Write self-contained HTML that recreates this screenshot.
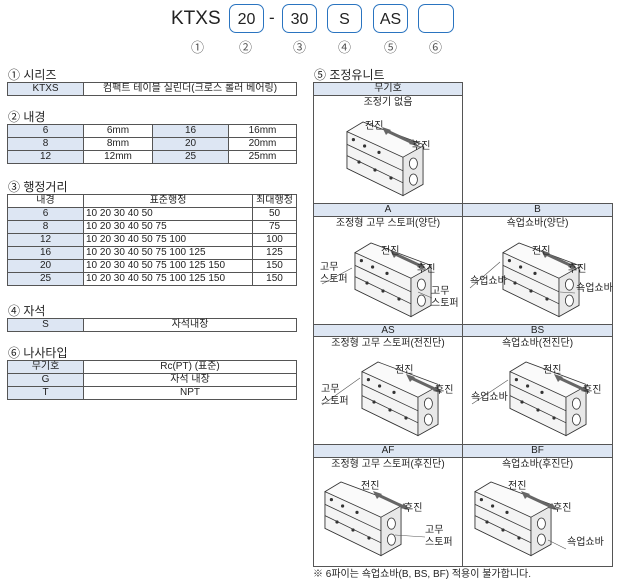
<!DOCTYPE html>
<html><head><meta charset="utf-8"><style>
body{margin:0;width:622px;height:584px;background:#fff;position:relative;overflow:hidden;font-family:"Liberation Sans","Noto Sans CJK KR",sans-serif;color:#222}
.a{position:absolute}
.t{position:absolute;font-size:10px;line-height:12px;white-space:nowrap}
.h{position:absolute;font-size:12px;white-space:nowrap}
table{position:absolute;border-collapse:collapse;font-size:10px}
td{border:1px solid #555;text-align:center;padding:0;height:12px;line-height:12px}
td.b{background:#dde6f3}
td.l{text-align:left;padding-left:2px}
.box{position:absolute;top:4px;height:29px;border:1.5px solid #2a74c0;border-radius:7px;font-size:16px;line-height:29px;text-align:center;box-sizing:border-box}
.c{position:absolute;top:37px;font-size:13px;color:#555}
.cell{position:absolute;border:1px solid #555;box-sizing:border-box}
.hd{position:absolute;background:#dde6f3;border:1px solid #555;box-sizing:border-box;font-size:10px;text-align:center;line-height:12px}
</style></head><body>
<svg width="0" height="0" style="position:absolute"><defs>
<g id="cyl0" stroke="#333" stroke-width="1" fill="#fff">
<polygon points="0,12 20,0 95,28 95,78 70,92 0,58" fill="#fafafa"/>
<polygon points="0,12 70,44 70,92 0,58" fill="#f4f4f4"/>
<polygon points="70,44 95,30 95,78 70,92" fill="#e8e8e8"/>
<line x1="0" y1="28" x2="70" y2="61"/><line x1="0" y1="42" x2="70" y2="76"/>
<circle cx="8" cy="22" r="1.5" fill="#333"/><circle cx="22" cy="30" r="1.5" fill="#333"/><circle cx="40" cy="38" r="1.5" fill="#333"/><circle cx="15" cy="50" r="1.5" fill="#333"/><circle cx="35" cy="60" r="1.5" fill="#333"/><circle cx="55" cy="70" r="1.5" fill="#333"/>
<ellipse cx="83" cy="52" rx="5" ry="7" fill="#fff"/><ellipse cx="83" cy="72" rx="5" ry="7" fill="#fff"/>
</g>
<g id="cyl"><use href="#cyl0" transform="scale(0.8)"/></g>
<g id="arr"><line x1="0" y1="0" x2="30" y2="14" stroke="#666" stroke-width="3"/><polygon points="-3,-3 6,0 1,5" fill="#666"/><polygon points="33,16 24,14 28,9" fill="#666"/></g>
</defs></svg>

<div class="a" style="left:171px;top:8px;font-size:19px">KTXS</div>
<div class="box" style="left:229px;width:35px">20</div>
<div class="a" style="left:269px;top:8px;font-size:17px">-</div>
<div class="box" style="left:282px;width:35px">30</div>
<div class="box" style="left:327px;width:35px">S</div>
<div class="box" style="left:373px;width:35px">AS</div>
<div class="box" style="left:418px;width:36px"></div>
<div class="c" style="left:191px">①</div><div class="c" style="left:239px">②</div><div class="c" style="left:293px">③</div><div class="c" style="left:338px">④</div><div class="c" style="left:384px">⑤</div><div class="c" style="left:429px">⑥</div>

<div class="h" style="left:8px;top:66px">① 시리즈</div>
<table style="left:7px;top:82px;width:290px"><tr><td class="b" style="width:75px">KTXS</td><td>컴팩트 테이블 실린더(크로스 롤러 베어링)</td></tr></table>

<div class="h" style="left:8px;top:108px">② 내경</div>
<table style="left:7px;top:124px;width:290px">
<tr><td class="b" style="width:75px">6</td><td style="width:68px">6mm</td><td class="b" style="width:75px">16</td><td>16mm</td></tr>
<tr><td class="b">8</td><td>8mm</td><td class="b">20</td><td>20mm</td></tr>
<tr><td class="b">12</td><td>12mm</td><td class="b">25</td><td>25mm</td></tr></table>

<div class="h" style="left:8px;top:178px">③ 행정거리</div>
<table style="left:7px;top:194px;width:290px">
<tr><td style="width:75px">내경</td><td>표준행정</td><td style="width:43px">최대행정</td></tr>
<tr><td class="b">6</td><td class="l">10 20 30 40 50</td><td>50</td></tr>
<tr><td class="b">8</td><td class="l">10 20 30 40 50 75</td><td>75</td></tr>
<tr><td class="b">12</td><td class="l">10 20 30 40 50 75 100</td><td>100</td></tr>
<tr><td class="b">16</td><td class="l">10 20 30 40 50 75 100 125</td><td>125</td></tr>
<tr><td class="b">20</td><td class="l">10 20 30 40 50 75 100 125 150</td><td>150</td></tr>
<tr><td class="b">25</td><td class="l">10 20 30 40 50 75 100 125 150</td><td>150</td></tr></table>

<div class="h" style="left:8px;top:302px">④ 자석</div>
<table style="left:7px;top:318px;width:290px"><tr><td class="b" style="width:75px">S</td><td>자석내장</td></tr></table>

<div class="h" style="left:8px;top:344px">⑥ 나사타입</div>
<table style="left:7px;top:360px;width:290px">
<tr><td class="b" style="width:75px">무기호</td><td>Rc(PT) (표준)</td></tr>
<tr><td class="b">G</td><td>자석 내장</td></tr>
<tr><td class="b">T</td><td>NPT</td></tr></table>

<div class="h" style="left:314px;top:66px">⑤ 조정유니트</div>
<div class="cell" style="left:313px;top:94px;width:150px;height:110px"></div>
<div class="hd" style="left:313px;top:82px;width:150px;height:14px">무기호</div>
<div class="cell" style="left:313px;top:215px;width:150px;height:110px"></div>
<div class="cell" style="left:462px;top:215px;width:151px;height:110px"></div>
<div class="hd" style="left:313px;top:203px;width:150px;height:14px">A</div>
<div class="hd" style="left:462px;top:203px;width:151px;height:14px">B</div>
<div class="cell" style="left:313px;top:335px;width:150px;height:110px"></div>
<div class="cell" style="left:462px;top:335px;width:151px;height:110px"></div>
<div class="hd" style="left:313px;top:324px;width:150px;height:13px">AS</div>
<div class="hd" style="left:462px;top:324px;width:151px;height:13px">BS</div>
<div class="cell" style="left:313px;top:456px;width:150px;height:111px"></div>
<div class="cell" style="left:462px;top:456px;width:151px;height:111px"></div>
<div class="hd" style="left:313px;top:444px;width:150px;height:14px">AF</div>
<div class="hd" style="left:462px;top:444px;width:151px;height:14px">BF</div>

<div class="t" style="left:313px;width:150px;text-align:center;top:97px">조정기 없음</div>
<div class="t" style="left:313px;width:150px;text-align:center;top:218px">조정형 고무 스토퍼(양단)</div>
<div class="t" style="left:462px;width:151px;text-align:center;top:218px">쇽업쇼바(양단)</div>
<div class="t" style="left:313px;width:150px;text-align:center;top:338px">조정형 고무 스토퍼(전진단)</div>
<div class="t" style="left:462px;width:151px;text-align:center;top:338px">쇽업쇼바(전진단)</div>
<div class="t" style="left:313px;width:150px;text-align:center;top:459px">조정형 고무 스토퍼(후진단)</div>
<div class="t" style="left:462px;width:151px;text-align:center;top:459px">쇽업쇼바(후진단)</div>

<svg class="a" style="left:0;top:0" width="622" height="584">
<use href="#cyl" x="347" y="122"/><use href="#arr" x="385" y="130"/>
<use href="#cyl" x="355" y="243"/><use href="#arr" x="393" y="253"/>
<use href="#cyl" x="503" y="243"/><use href="#arr" x="544" y="253"/>
<use href="#cyl" x="362" y="362"/><use href="#arr" x="409" y="377"/>
<use href="#cyl" x="510" y="362"/><use href="#arr" x="557" y="377"/>
<use href="#cyl" x="325" y="482"/><use href="#arr" x="376" y="494"/>
<use href="#cyl" x="475" y="482"/><use href="#arr" x="524" y="494"/>
<g stroke="#555" stroke-width="0.6" fill="none">
<line x1="322" y1="284" x2="352" y2="268"/><line x1="432" y1="298" x2="418" y2="292"/>
<line x1="470" y1="288" x2="500" y2="262"/><line x1="575" y1="293" x2="560" y2="292"/>
<line x1="322" y1="405" x2="360" y2="378"/><line x1="472" y1="404" x2="508" y2="380"/>
<line x1="425" y1="537" x2="395" y2="535"/><line x1="566" y1="549" x2="548" y2="540"/>
</g>
</svg>
<div class="t" style="left:365px;top:121px">전진</div><div class="t" style="left:412px;top:141px">후진</div>
<div class="t" style="left:381px;top:246px">전진</div><div class="t" style="left:417px;top:264px">후진</div>
<div class="t" style="left:320px;top:262px">고무<br>스토퍼</div><div class="t" style="left:431px;top:286px">고무<br>스토퍼</div>
<div class="t" style="left:532px;top:246px">전진</div><div class="t" style="left:568px;top:264px">후진</div>
<div class="t" style="left:470px;top:276px">쇽업쇼바</div><div class="t" style="left:576px;top:283px">쇽업쇼바</div>
<div class="t" style="left:395px;top:365px">전진</div><div class="t" style="left:435px;top:385px">후진</div>
<div class="t" style="left:321px;top:384px">고무<br>스토퍼</div>
<div class="t" style="left:543px;top:365px">전진</div><div class="t" style="left:583px;top:385px">후진</div>
<div class="t" style="left:471px;top:392px">쇽업쇼바</div>
<div class="t" style="left:361px;top:481px">전진</div><div class="t" style="left:404px;top:503px">후진</div>
<div class="t" style="left:425px;top:525px">고무<br>스토퍼</div>
<div class="t" style="left:508px;top:481px">전진</div><div class="t" style="left:553px;top:503px">후진</div>
<div class="t" style="left:567px;top:537px">쇽업쇼바</div>
<div class="t" style="left:313px;top:569px">※ 6파이는 쇽업쇼바(B, BS, BF) 적용이 불가합니다.</div>
</body></html>
